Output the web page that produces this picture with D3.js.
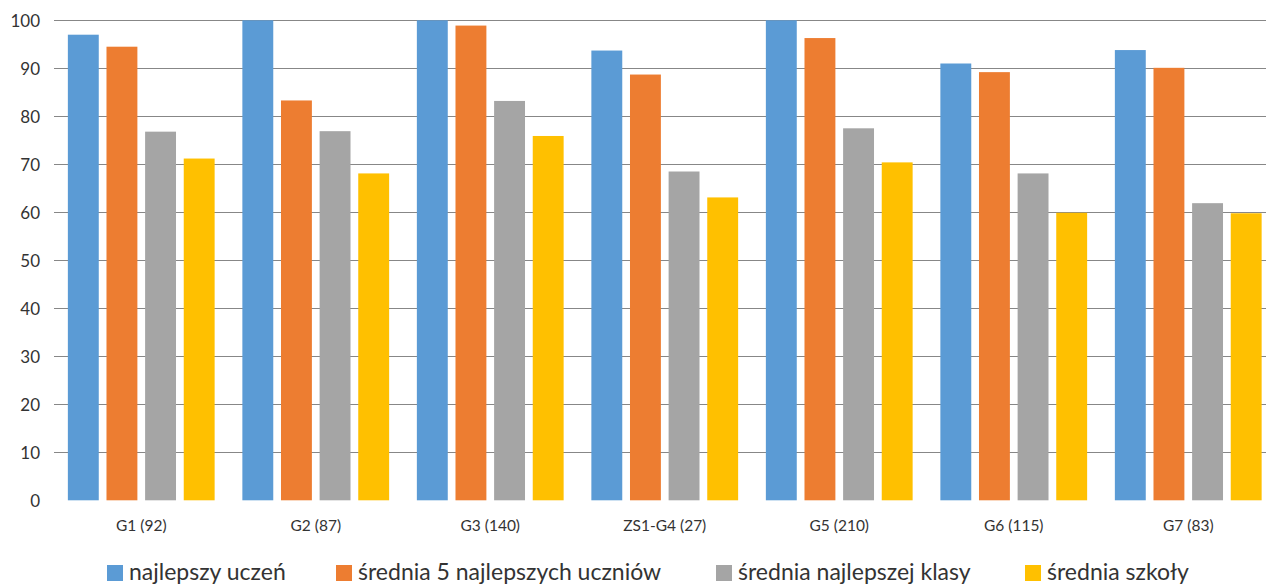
<!DOCTYPE html>
<html><head><meta charset="utf-8">
<script src="https://cdn.jsdelivr.net/npm/d3@7"></script>
<style>html,body{margin:0;padding:0;background:#fff;overflow:hidden}</style>
</head><body><svg id="c" width="1266" height="585"></svg>
<script>
const categories = ["G1 (92)", "G2 (87)", "G3 (140)", "ZS1-G4 (27)", "G5 (210)", "G6 (115)", "G7 (83)"];
const seriesNames = ["najlepszy uczeń", "średnia 5 najlepszych uczniów", "średnia najlepszej klasy", "średnia szkoły"];
const najlepszyUczen = [97, 100, 100, 93.7, 100, 91, 93.8];
const srednia5 = [94.5, 83.3, 98.9, 88.7, 96.3, 89.2, 90.1];
const sredniaKlasy = [76.8, 76.9, 83.2, 68.5, 77.5, 68.1, 61.9];
const sredniaSzkoly = [71.2, 68.1, 75.9, 63.1, 70.4, 59.9, 59.8];
const colors = ["#5B9BD5", "#ED7D31", "#A5A5A5", "#FFC000"];
const yTicks = [0, 10, 20, 30, 40, 50, 60, 70, 80, 90, 100];

const seriesValues = [najlepszyUczen, srednia5, sredniaKlasy, sredniaSzkoly];
const svg = d3.select("#c");
const font = "Lato, 'Open Sans', sans-serif";
const mLeft = 54, mTop = 20.3, mBottom = 500.3, mRight = 54 + 7 * 174.5;

const y = d3.scaleLinear().domain([0, 100]).range([mBottom, mTop]);
const x0 = d3.scaleBand().domain(categories).range([mLeft, mRight]).paddingInner(0).paddingOuter(0);
const x1 = d3.scaleBand().domain(d3.range(4)).range([10, x0.bandwidth() - 10]).paddingInner(0.2).paddingOuter(0.1);

// gridlines
svg.append("g").selectAll("line").data(yTicks.filter(d => d > 0)).join("line")
  .attr("x1", mLeft).attr("x2", 1266)
  .attr("y1", d => Math.round(y(d)) + 0.5).attr("y2", d => Math.round(y(d)) + 0.5)
  .attr("stroke", "#878787").attr("stroke-width", 1);

// y axis labels
const yAxis = d3.axisLeft(y).tickValues(yTicks).tickSize(0).tickPadding(0);
const ya = svg.append("g").attr("transform", `translate(40,0)`).call(yAxis);
ya.select(".domain").remove();
ya.selectAll("text").attr("font-family", font).attr("font-size", 17).attr("fill", "#333333").attr("dy", "0.35em");

// bars
const groups = svg.append("g").selectAll("g").data(categories).join("g")
  .attr("transform", d => `translate(${x0(d)},0)`);
groups.selectAll("rect").data((d, i) => seriesValues.map((s, k) => ({k, v: s[i]}))).join("rect")
  .attr("x", d => x1(d.k)).attr("width", x1.bandwidth())
  .attr("y", d => y(d.v)).attr("height", d => y(0) - y(d.v))
  .attr("fill", d => colors[d.k]);

// x axis labels
const xAxis = d3.axisBottom(x0).tickSize(0).tickPadding(0);
const xa = svg.append("g").attr("transform", `translate(0,${mBottom + 20})`).call(xAxis);
xa.select(".domain").remove();
xa.selectAll("text").attr("font-family", font).attr("font-size", 15.5).attr("fill", "#333333");

// legend
const legendX = [107, 336, 716, 1025];
const lg = svg.append("g").selectAll("g").data(seriesNames).join("g")
  .attr("transform", (d, i) => `translate(${legendX[i]},565)`);
lg.append("rect").attr("width", 16).attr("height", 16).attr("fill", (d, i) => colors[i]);
lg.append("text").attr("x", 22).attr("y", 7).attr("dy", "0.35em")
  .attr("font-family", font).attr("font-size", 23).attr("fill", "#333333").text(d => d);
</script></body></html>
